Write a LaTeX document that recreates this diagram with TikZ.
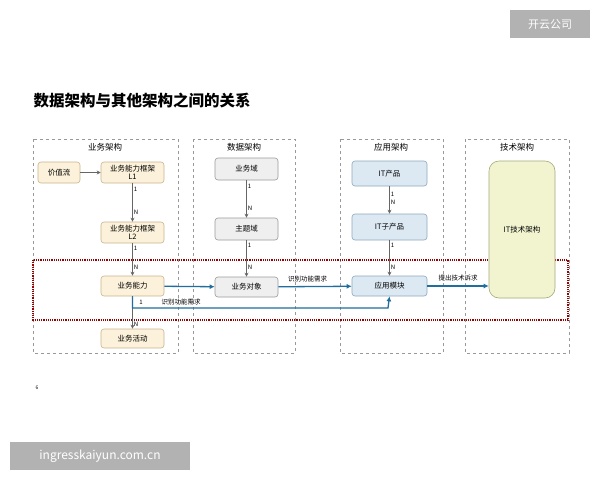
\documentclass[tikz,border=0pt]{standalone}
\usepackage{fontspec}
\setmainfont{Noto Sans CJK SC}
\usetikzlibrary{arrows.meta}
\definecolor{oD}{HTML}{C9B58E}\definecolor{oF}{HTML}{FCF1DA}
\definecolor{gD}{HTML}{9A9A9A}\definecolor{gF}{HTML}{EFEFEF}
\definecolor{bD}{HTML}{8FA8BC}\definecolor{bF}{HTML}{DCE9F3}
\definecolor{yD}{HTML}{A5AA7A}\definecolor{yF}{HTML}{F1F4CF}
\definecolor{aB}{HTML}{1F6E9E}
\begin{document}
\begin{tikzpicture}[x=1pt,y=-1pt,
 box/.style={rounded corners=3pt,font=\fontsize{7.5}{8.5}\selectfont,align=center,inner sep=0pt,line width=0.6pt},
 org/.style={box,draw=oD,fill=oF},
 gry/.style={box,draw=gD,fill=gF},
 blu/.style={box,draw=bD,fill=bF},
 col/.style={draw=gray!80,dashed,line width=0.5pt},
 ttl/.style={font=\fontsize{8.5}{9}\selectfont},
 ga/.style={draw=gray!80!black,-{Stealth[length=4pt,width=4pt]},line width=0.6pt},
 ba/.style={draw=aB,-{Latex[length=5pt,width=5pt]},line width=1.3pt},
 lb/.style={font=\fontsize{6}{6}\selectfont,inner sep=1pt},
 lbl/.style={font=\fontsize{6.5}{7}\selectfont,inner sep=1pt}]
\useasboundingbox (0,0) rectangle (600,480);
\fill[white] (0,0) rectangle (600,480);
\node[fill=gray!60,text=white,minimum width=80pt,minimum height=28pt,font=\fontsize{11}{12}\selectfont] (logo) at (550,24) {开云公司};
\node[anchor=west,font=\bfseries\fontsize{15.5}{17}\selectfont] (title) at (30,101) {数据架构与其他架构之间的关系};
\node[fill=gray!60,text=white,minimum width=180pt,minimum height=28pt,font=\fontsize{12}{13}\selectfont] (wm) at (100,456) {ingresskaiyun.com.cn};
\node[font=\fontsize{5}{6}\selectfont] (pg) at (37,388) {6};
\draw[col] (33,139) rectangle (178,353);
\draw[col] (193,139) rectangle (295,353);
\draw[col] (340,139) rectangle (443,353);
\draw[col] (465,139) rectangle (569,353);
\draw[draw=red!60!black,densely dotted,line width=1.2pt] (33,260) rectangle (568,320);
\node[ttl] (t1) at (105,147) {业务架构};
\node[ttl] (t2) at (244,147) {数据架构};
\node[ttl] (t3) at (391,147) {应用架构};
\node[ttl] (t4) at (517,147) {技术架构};
\node[org,minimum width=42pt,minimum height=21pt] (vs) at (59,172.5) {价值流};
\node[org,minimum width=63pt,minimum height=21pt] (l1) at (132.5,172.5) {业务能力框架\\L1};
\node[org,minimum width=63pt,minimum height=21pt] (l2) at (132.5,232.5) {业务能力框架\\L2};
\node[org,minimum width=63pt,minimum height=20pt] (bc) at (132.5,286) {业务能力};
\node[org,minimum width=63pt,minimum height=19pt] (ba) at (132.5,338.5) {业务活动};
\node[gry,minimum width=63pt,minimum height=22pt] (bd) at (246.5,169) {业务域};
\node[gry,minimum width=63pt,minimum height=22pt] (sd) at (246.5,229) {主题域};
\node[gry,minimum width=63pt,minimum height=20pt] (bo) at (246.5,287) {业务对象};
\node[blu,minimum width=75pt,minimum height=25pt] (ip) at (389.5,173.5) {IT产品};
\node[blu,minimum width=75pt,minimum height=26pt] (isp) at (389.5,227) {IT子产品};
\node[blu,minimum width=75pt,minimum height=20pt] (am) at (389.5,286) {应用模块};
\node[box,draw=yD,fill=yF,rounded corners=10pt,minimum width=66pt,minimum height=137pt] (it) at (522,229.5) {IT技术架构};
\draw[ga] (vs) -- (l1);
\draw[ga] (l1) -- node[lb,pos=0.15,right]{1} node[lb,pos=0.75,right]{N} (l2);
\draw[ga] (l2) -- node[lb,pos=0.15,right]{1} node[lb,pos=0.75,right]{N} (bc);
\draw[ga] (bc) -- node[lb,pos=0.85,right]{N} (ba);
\draw[ga] (bd) -- node[lb,pos=0.15,right]{1} node[lb,pos=0.75,right]{N} (sd);
\draw[ga] (sd) -- node[lb,pos=0.15,right]{1} node[lb,pos=0.75,right]{N} (bo);
\draw[ga] (ip) -- node[lb,pos=0.3,right]{1} node[lb,pos=0.6,right]{N} (isp);
\draw[ga] (isp) -- node[lb,pos=0.15,right]{1} node[lb,pos=0.75,right]{N} (am);
\draw[ba] (bc) -- (bo);
\draw[ba] (bo) -- node[lbl,above,pos=0.4,yshift=3pt]{识别功能需求} (am);
\coordinate (turn) at (388,308);
\draw[ba] (bc.south) |- (turn) -- (am.south);
\node[lb] (one) at (141,302) {1};
\node[lbl] (req2) at (181,302) {识别功能需求};
\draw[ba] (am) -- node[lbl,above,yshift=3pt]{提出技术诉求} (am -| it.west);
\end{tikzpicture}
\end{document}
